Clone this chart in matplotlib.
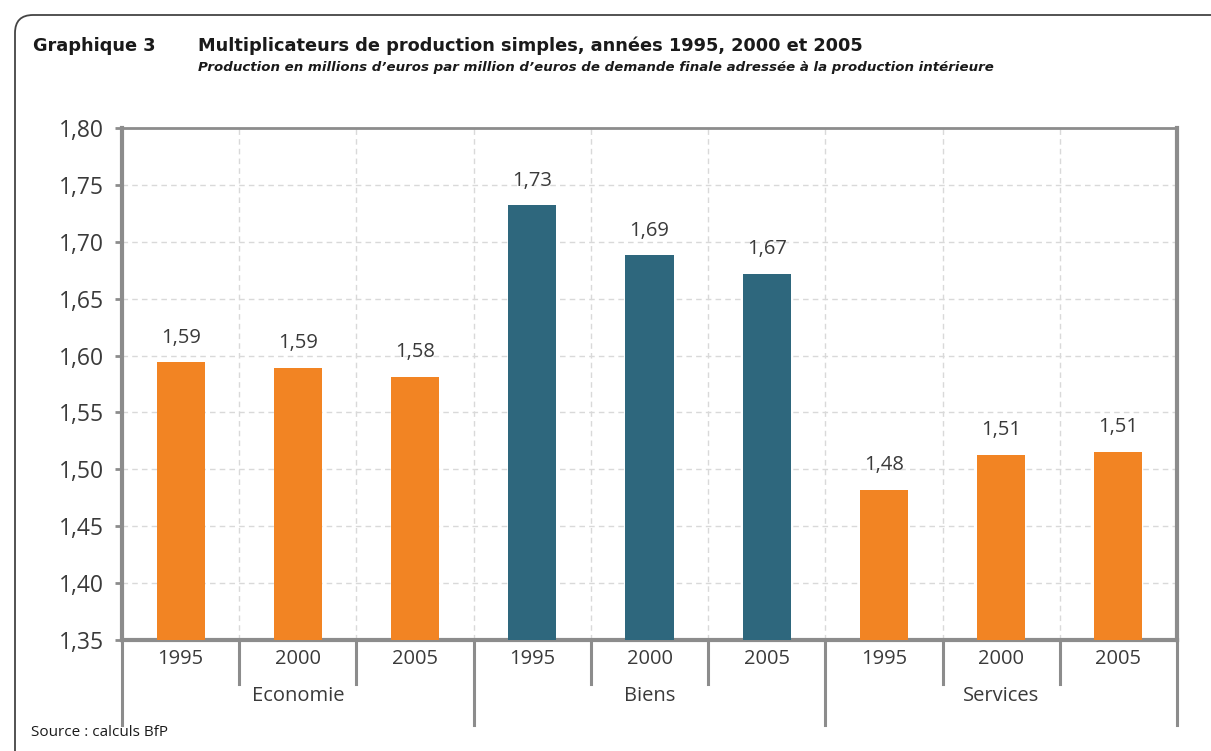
import numpy as np
import matplotlib
matplotlib.use("Agg")
import matplotlib.pyplot as plt
from matplotlib.patches import FancyBboxPatch
import matplotlib.transforms as mtransforms

### données
groups = ["Economie", "Biens", "Services"]
years = ["1995", "2000", "2005"]
values = [1.594, 1.589, 1.581,
          1.732, 1.688, 1.672,
          1.482, 1.513, 1.515]
labels = ["1,59", "1,59", "1,58",
          "1,73", "1,69", "1,67",
          "1,48", "1,51", "1,51"]
yticks = [1.35, 1.40, 1.45, 1.50, 1.55, 1.60, 1.65, 1.70, 1.75, 1.80]

ORANGE = "#F28423"
TEAL = "#2E677D"
colors = [ORANGE] * 3 + [TEAL] * 3 + [ORANGE] * 3
TXT = "#3a3a3a"
AXC = "#8c8c8c"

plt.rcParams['font.family'] = ['Open Sans', 'DejaVu Sans']

W, H = 1211, 751
fig = plt.figure(figsize=(W / 100, H / 100), dpi=100)

# cadre arrondi (coupé à droite et en bas)
frame = FancyBboxPatch((15, -40), W + 40, H + 40 - 15,
                       boxstyle="round,pad=0,rounding_size=18",
                       transform=None, fill=False, ec="#444444", lw=1.3,
                       zorder=0)
fig.patches.append(frame)

ax = fig.add_axes([122 / W, 1 - 640 / H, (1177 - 122) / W, (640 - 128) / H])
x = np.arange(len(values))
ax.bar(x, values, width=0.41, color=colors, zorder=3)
ax.set_xlim(-0.5, len(values) - 0.5)
ax.set_ylim(1.35, 1.80)

ax.set_yticks(yticks)
ax.set_yticklabels([f"{v:.2f}".replace(".", ",") for v in yticks],
                   fontsize=16.5, color=TXT)
ax.tick_params(axis="y", length=5, width=2, color=AXC, pad=8)
ax.set_xticks([])

# grille pointillée
for v in yticks[1:-1]:
    ax.axhline(v, color="#d9d9d9", lw=1, ls=(0, (4, 3)), zorder=1)
for b in np.arange(0.5, len(values) - 1, 1):
    ax.axvline(b, color="#d9d9d9", lw=1, ls=(0, (4, 3)), zorder=1)

for side in ["left", "bottom", "right"]:
    ax.spines[side].set_color(AXC)
    ax.spines[side].set_linewidth(3)
ax.spines["top"].set_color(AXC)
ax.spines["top"].set_linewidth(2)

# étiquettes des valeurs
for xi, v, lab in zip(x, values, labels):
    ax.text(xi, v + 0.013, lab, ha="center", va="bottom", fontsize=14.5, color=TXT)

# axe à deux niveaux
trans = mtransforms.blended_transform_factory(ax.transData, ax.transAxes)
for i in range(len(values)):
    ax.text(i, -0.037, years[i % 3], transform=trans, ha="center", va="center",
            fontsize=14.5, color=TXT)
for j, g in enumerate(groups):
    ax.text(3 * j + 1, -0.109, g, transform=trans, ha="center", va="center",
            fontsize=14.5, color=TXT)
for b in np.arange(-0.5, len(values), 1):
    bottom = -0.166 if (b + 0.5) % 3 == 0 else -0.086
    ax.plot([b, b], [0, bottom], transform=trans, color=AXC, lw=2.2,
            clip_on=False)

# titres
title_font = ['DejaVu Sans']
fig.text(33 / W, 1 - 46 / H, "Graphique 3", fontsize=12.8, fontweight="bold",
         color="#1a1a1a", va="center", family=title_font)
fig.text(198 / W, 1 - 46 / H,
         "Multiplicateurs de production simples, années 1995, 2000 et 2005",
         fontsize=12.8, fontweight="bold", color="#1a1a1a", va="center",
         family=title_font)
fig.text(198 / W, 1 - 68 / H,
         "Production en millions d’euros par million d’euros de demande finale "
         "adressée à la production intérieure",
         fontsize=9.65, fontweight="bold", style="italic", color="#1a1a1a",
         va="center", family=title_font)
fig.text(31 / W, 1 - 733 / H, "Source : calculs BfP", fontsize=11,
         color="#1a1a1a", va="center")

fig.savefig("out.png", dpi=100)
